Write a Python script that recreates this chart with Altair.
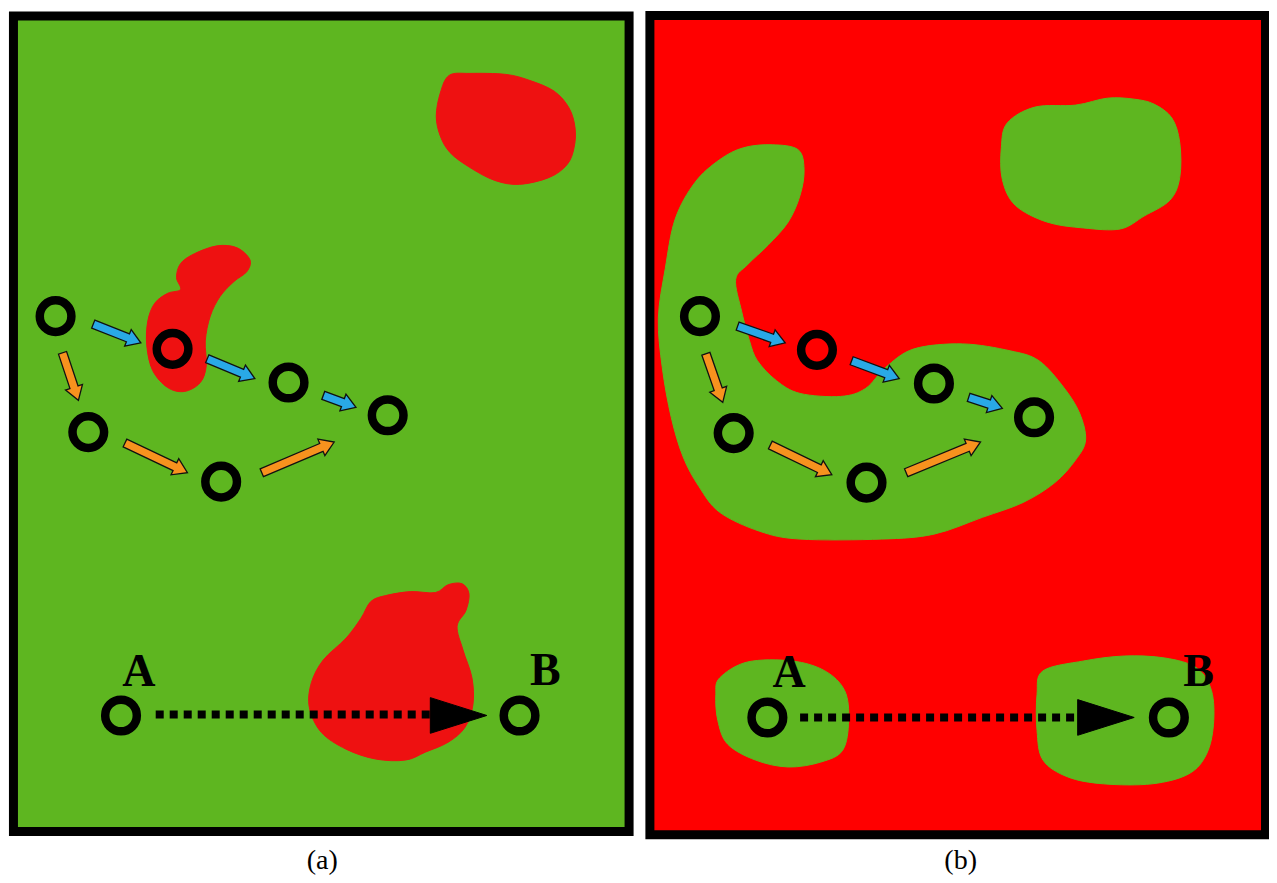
import altair as alt
import pandas as pd
import numpy as np

# ---------------- data (pixel-like coordinates) ----------------
panel_id = ["a", "b"]
panel_x0 = [9.5, 651.5]
panel_x1 = [630.5, 1272.5]
panel_y0 = [12, 11.5]
panel_y1 = [835, 838.5]
panel_fill = ["#5EB620", "#FF0000"]

caption_text = ["(a)", "(b)"]
caption_x = [321, 965]
caption_y = [873, 873]

# red blobs in panel (a)
a1_x = [449, 470, 506, 530, 555, 570, 576, 575, 568, 550, 520, 495, 470, 450, 440, 436, 440]
a1_y = [72, 70, 71, 77, 88, 105, 125, 145, 162, 175, 182, 178, 165, 150, 133, 113, 90]
a2_x = [192, 215, 235, 248, 245, 232, 218, 208, 203, 204, 198, 182, 165, 150, 144, 145, 152, 165, 178, 174, 178]
a2_y = [252, 244, 246, 258, 270, 280, 295, 315, 340, 365, 382, 391, 387, 370, 345, 320, 302, 292, 288, 276, 262]
a3_x = [385, 410, 435, 448, 462, 469, 466, 457, 463, 472, 473, 465, 448, 425, 405, 375, 345, 320, 308, 310, 322, 345, 360, 370]
a3_y = [597, 593, 594, 586, 585, 595, 612, 628, 652, 680, 707, 730, 745, 755, 763, 762, 752, 735, 710, 685, 662, 640, 620, 603]

# green blobs in panel (b)
b1_x = [1113, 1081, 1040, 1012, 1006, 1007, 1020, 1052, 1089, 1126, 1150, 1176, 1186, 1186, 1178, 1160, 1140]
b1_y = [95, 102, 104, 120, 145, 177, 203, 220, 226, 227, 214, 198, 175, 140, 115, 101, 96]
b2_x = [775, 801, 807, 803, 791, 771, 750, 738, 744, 752, 760, 779, 803, 844, 869, 889, 918, 967,
        1015, 1044, 1069, 1085, 1091, 1081, 1060, 1028, 987, 938, 885, 803, 762, 722, 701, 685,
        673, 664, 660, 667, 677, 697, 722, 746]
b2_y = [142, 147, 167, 193, 220, 243, 263, 278, 310, 340, 360, 380, 393, 396, 388, 367, 348, 343,
        350, 360, 387, 413, 440, 460, 483, 503, 518, 535, 540, 540, 532, 513, 487, 457,
        417, 367, 317, 267, 217, 180, 157, 145]
b3_x = [722, 750, 795, 828, 848, 852, 846, 824, 791, 758, 730, 720, 718]
b3_y = [680, 664, 663, 673, 693, 723, 753, 765, 770, 763, 747, 723, 697]
b4_x = [1048, 1089, 1130, 1171, 1203, 1218, 1220, 1213, 1195, 1158, 1109, 1073, 1048, 1042, 1042]
b4_y = [673, 663, 658, 660, 670, 693, 727, 757, 777, 787, 787, 780, 763, 733, 697]

# ring markers
ring_x = [52, 170, 287, 387, 85, 219, 118, 520, 702, 820, 938, 1039, 736, 870, 770, 1175]
ring_y = [315, 348, 382, 415, 432, 482, 718, 718, 315, 349, 383, 417, 433, 483, 720, 720]

# small arrows (tail -> tip)
arrow_kind = ["blue", "blue", "blue", "orange", "orange", "orange"] * 2
arrow_tail_x = [90, 205, 322, 59, 122, 260, 740, 855, 973, 708, 773, 910]
arrow_tail_y = [323, 358, 395, 352, 443, 473, 325, 360, 397, 353, 445, 473]
arrow_tip_x = [138, 253, 355, 75, 185, 333, 788, 903, 1007, 725, 835, 985]
arrow_tip_y = [342, 378, 407, 400, 473, 442, 342, 378, 408, 402, 475, 442]

# dotted A -> B paths
dash_x0 = [153, 803]
dash_x1 = [431, 1084]
dash_y = [717, 720]
head_base_x = [430, 1083]
head_tip_x = [487, 1140]
head_y = [718, 720]
head_half = [18, 18]

# point labels
label_text = ["A", "B", "A", "B"]
label_x = [136, 546, 792, 1205]
label_y = [688, 687, 689, 688]

# ---------------- tables ----------------
def blob_table(names, xs, ys):
    rows = []
    for n, bx, by in zip(names, xs, ys):
        for i, (x, y) in enumerate(zip(bx, by)):
            rows.append({"blob": n, "i": i, "x": x, "y": y})
    return pd.DataFrame(rows)

red_blobs = blob_table(["a1", "a2", "a3"], [a1_x, a2_x, a3_x], [a1_y, a2_y, a3_y])
green_blobs = blob_table(["b1", "b2", "b3", "b4"], [b1_x, b2_x, b3_x, b4_x], [b1_y, b2_y, b3_y, b4_y])

panels = pd.DataFrame({"id": panel_id, "x0": panel_x0, "x1": panel_x1,
                       "y0": panel_y0, "y1": panel_y1, "fill": panel_fill})
rings = pd.DataFrame({"x": ring_x, "y": ring_y})
captions = pd.DataFrame({"t": caption_text, "x": caption_x, "y": caption_y})
labels = pd.DataFrame({"t": label_text, "x": label_x, "y": label_y})
dashes = pd.DataFrame({"x0": dash_x0, "x1": dash_x1, "y": dash_y})

SHAFT, HEAD, HEADLEN = 4.3, 9.0, 14.0
arrow_rows = []
for k, (kind, tx, ty, px, py) in enumerate(zip(arrow_kind, arrow_tail_x, arrow_tail_y, arrow_tip_x, arrow_tip_y)):
    d = np.array([px - tx, py - ty], float)
    d /= np.linalg.norm(d)
    n = np.array([-d[1], d[0]])
    T = np.array([tx, ty], float)
    P = np.array([px, py], float)
    B = P - d * HEADLEN
    pts = [T + n * SHAFT, B + n * SHAFT, B + n * HEAD, P, B - n * HEAD, B - n * SHAFT, T - n * SHAFT]
    for i, p in enumerate(pts):
        arrow_rows.append({"arrow": k, "kind": kind, "i": i, "x": p[0], "y": p[1]})
arrows = pd.DataFrame(arrow_rows)

head_rows = []
for k, (bx, tx, hy, hh) in enumerate(zip(head_base_x, head_tip_x, head_y, head_half)):
    for i, (x, y) in enumerate([(bx, hy - hh), (tx, hy), (bx, hy + hh)]):
        head_rows.append({"head": k, "i": i, "x": x, "y": y})
heads = pd.DataFrame(head_rows)

# ---------------- chart ----------------
XS = alt.Scale(domain=[4, 1276], nice=False, zero=False)
YS = alt.Scale(domain=[4, 879], nice=False, zero=False, reverse=True)

def X(f="x"):
    return alt.X(f"{f}:Q", scale=XS, axis=None)

def Y(f="y"):
    return alt.Y(f"{f}:Q", scale=YS, axis=None)

bg = alt.Chart(panels).mark_rect().encode(
    x=X("x0"), x2="x1:Q", y=Y("y0"), y2="y1:Q",
    fill=alt.Fill("fill:N", scale=None))

red = alt.Chart(red_blobs).mark_line(
    interpolate="cardinal-closed", fill="#EE1111", stroke="#EE1111", strokeWidth=1).encode(
    x=X(), y=Y(), detail="blob:N", order="i:Q")

green = alt.Chart(green_blobs).mark_line(
    interpolate="cardinal-closed", fill="#5EB620", stroke="#5EB620", strokeWidth=1).encode(
    x=X(), y=Y(), detail="blob:N", order="i:Q")

frame = alt.Chart(panels).mark_rect(fill=None, fillOpacity=0, stroke="black", strokeWidth=9).encode(
    x=X("x0"), x2="x1:Q", y=Y("y0"), y2="y1:Q")

arrow_blue = alt.Chart(arrows[arrows.kind == "blue"]).mark_line(
    interpolate="linear-closed", fill="#29A9E6", stroke="#111111", strokeWidth=1.3).encode(
    x=X(), y=Y(), detail="arrow:N", order="i:Q")
arrow_orange = alt.Chart(arrows[arrows.kind == "orange"]).mark_line(
    interpolate="linear-closed", fill="#F7921E", stroke="#111111", strokeWidth=1.3).encode(
    x=X(), y=Y(), detail="arrow:N", order="i:Q")

ring = alt.Chart(rings).mark_point(
    shape="circle", filled=False, stroke="black", strokeWidth=8.5, size=1000, opacity=1).encode(
    x=X(), y=Y())

dash = alt.Chart(dashes).mark_rule(
    stroke="black", strokeWidth=8, strokeDash=[8, 6], strokeCap="butt").encode(
    x=X("x0"), x2="x1:Q", y=Y())

head = alt.Chart(heads).mark_line(
    interpolate="linear-closed", fill="black", stroke="black", strokeWidth=1).encode(
    x=X(), y=Y(), detail="head:N", order="i:Q")

lab = alt.Chart(labels).mark_text(
    font="Liberation Serif", fontWeight="bold", fontSize=46, color="black",
    align="center", baseline="alphabetic").encode(x=X(), y=Y(), text="t:N")

cap = alt.Chart(captions).mark_text(
    font="Liberation Serif", fontSize=28, color="black",
    align="center", baseline="alphabetic").encode(x=X(), y=Y(), text="t:N")

chart = alt.layer(bg, red, green, frame, arrow_blue, arrow_orange, ring, dash, head, lab, cap).properties(
    width=1261, height=867, padding=0, autosize=alt.AutoSizeParams(type="none"),
    background="white"
).configure_view(stroke=None)

chart.save("out.html", embed_options={"renderer": "svg", "actions": False})
